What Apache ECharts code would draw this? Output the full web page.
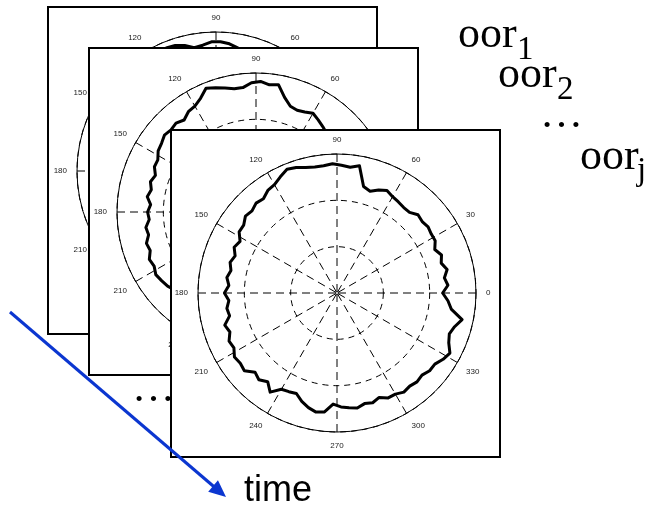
<!DOCTYPE html>
<html><head><meta charset="utf-8">
<script src="https://cdn.jsdelivr.net/npm/echarts@6/dist/echarts.min.js"></script>
<style>html,body{margin:0;padding:0;background:#fff}#c{width:648px;height:505px}</style>
</head><body><div id="c"></div>
<script>
// ---- data ----
const angleTickLabels = ['0','30','60','90','120','150','180','210','240','270','300','330'];

const frontAngles = [0,4,8,12,16,20,24,28,32,36,40,44,48,52,56,60,64,68,72,76,
  80,84,88,92,96,100,104,108,112,116,120,124,128,132,136,140,144,148,152,156,
  160,164,168,172,176,180,184,188,192,196,200,204,208,212,216,220,224,228,232,236,
  240,244,248,252,256,260,264,268,272,276,280,284,288,292,296,300,304,308,312,316,
  320,324,328,332,336,340,344,348,352,356];
const frontRadius = [0.76,0.80,0.78,0.81,0.78,0.80,0.77,0.80,0.80,0.81,0.80,0.81,0.78,0.78,0.79,0.80,0.82,0.80,0.77,0.79,
  0.93,0.91,0.92,0.93,0.92,0.92,0.93,0.95,0.96,0.93,0.90,0.89,0.86,0.87,0.85,0.86,0.83,0.83,0.79,0.81,
  0.78,0.80,0.78,0.80,0.78,0.81,0.78,0.80,0.79,0.84,0.82,0.85,0.84,0.87,0.86,0.87,0.82,0.84,0.81,0.86,
  0.80,0.79,0.78,0.82,0.85,0.87,0.86,0.80,0.82,0.83,0.84,0.82,0.83,0.81,0.84,0.84,0.86,0.85,0.86,0.85,
  0.87,0.87,0.90,0.92,0.88,0.86,0.88,0.92,0.83,0.80];

const middleAngles = [40,44,48,52,56,60,64,68,72,76,80,84,88,92,96,100,104,108,112,116,
  120,124,128,132,136,140,144,148,152,156,160,164,168,172,176,180,184,188,192,196,
  200,204,208,212,216,220,224,228];
const middleRadius = [0.78,0.77,0.76,0.78,0.80,0.82,0.80,0.79,0.80,0.85,0.93,0.92,0.94,0.93,0.90,0.90,0.92,0.94,0.96,0.91,
  0.88,0.87,0.84,0.86,0.85,0.86,0.84,0.83,0.80,0.80,0.77,0.79,0.77,0.79,0.76,0.78,0.77,0.80,0.79,0.82,
  0.81,0.84,0.83,0.85,0.84,0.83,0.81,0.83];

const backAngles = [64,68,72,76,80,84,88,92,96,100,104,108,112,116,120,124];
const backRadius = [0.80,0.79,0.80,0.86,0.90,0.92,0.93,0.93,0.91,0.90,0.93,0.95,0.955,0.92,0.89,0.88];

// ---- layout ----
const BOX_W = 329, BOX_H = 327, R = 139;
const plots = [
  {box:[48,7],   center:[216,171], ang:backAngles,   rad:backRadius,   close:false},
  {box:[89,48],  center:[256,212], ang:middleAngles, rad:middleRadius, close:false},
  {box:[171,130],center:[337,293], ang:frontAngles,  rad:frontRadius,  close:true}
];

const polar = [], angleAxis = [], radiusAxis = [], series = [], elements = [];
plots.forEach((p, i) => {
  const zb = i * 3 + 1;
  elements.push({type:'rect', z: zb, shape:{x:p.box[0], y:p.box[1], width:BOX_W, height:BOX_H},
    style:{fill:'#fff', stroke:'#000', lineWidth:2}});
  polar.push({center:p.center, radius:R});
  angleAxis.push({polarIndex:i, type:'value', min:0, max:360, interval:30, startAngle:0, clockwise:false, z: zb + 1,
    axisLine:{show:true, lineStyle:{color:'#000', width:1}},
    axisTick:{show:false},
    splitLine:{show:true, lineStyle:{color:'#000', width:1, type:[8,5]}},
    axisLabel:{show:true, margin:10, fontSize:8, fontFamily:'Liberation Sans', color:'#222',
      formatter: v => (v < 360 ? angleTickLabels[Math.round(v/30)] : '')}
  });
  radiusAxis.push({polarIndex:i, type:'value', min:0, max:1, interval:1/3, z: zb + 1,
    axisLine:{show:false}, axisTick:{show:false}, axisLabel:{show:false},
    splitLine:{show:true, lineStyle:{color:'#000', width:1, type:[6,5]}}
  });
  const data = p.rad.map((r, k) => [r, p.ang[k]]);
  if (p.close) data.push([p.rad[0], p.ang[0] + 360]);
  series.push({type:'line', coordinateSystem:'polar', polarIndex:i, z: zb + 2, data,
    showSymbol:false, symbol:'none', smooth:false, silent:true,
    lineStyle:{color:'#000', width:3, join:'round', cap:'round'}});
});

// annotations
const TZ = 20;
function txt(text, x, baseline, size, family) {
  const y = baseline - size * 0.34;
  elements.push({type:'text', z:TZ, style:{text, x, y, font: size + 'px "' + family + '"', fill:'#000',
    align:'left', verticalAlign:'middle', textAlign:'left', textVerticalAlign:'middle'}});
}
txt('oor', 458, 50, 44, 'Liberation Serif');  txt('1', 517, 62, 33, 'Liberation Serif');
txt('oor', 498, 90, 44, 'Liberation Serif');  txt('2', 557, 102, 33, 'Liberation Serif');
txt('\u2026', 540, 130, 43, 'Liberation Serif');
txt('oor', 580, 172, 44, 'Liberation Serif'); txt('j', 637, 183, 33, 'Liberation Serif');
txt('\u2026', 132, 404, 43, 'Liberation Serif');
txt('time', 244, 503, 36, 'Liberation Sans');

// arrow
const A0 = [10, 312], A1 = [226, 497];
const L = Math.hypot(A1[0]-A0[0], A1[1]-A0[1]);
const d = [(A1[0]-A0[0])/L, (A1[1]-A0[1])/L], n = [-d[1], d[0]];
const HL = 17, HW = 7.5;
const base = [A1[0]-HL*d[0], A1[1]-HL*d[1]];
const blue = '#0b36d0';
elements.push({type:'line', z:TZ, shape:{x1:A0[0], y1:A0[1], x2:base[0]+2*d[0], y2:base[1]+2*d[1]},
  style:{stroke:blue, lineWidth:3}});
elements.push({type:'polygon', z:TZ, shape:{points:[A1, [base[0]+HW*n[0], base[1]+HW*n[1]], [base[0]-HW*n[0], base[1]-HW*n[1]]]},
  style:{fill:blue}});

const chart = echarts.init(document.getElementById('c'), null, {renderer:'canvas'});
chart.setOption({animation:false, backgroundColor:'#fff', polar, angleAxis, radiusAxis, series, graphic:{elements}});
</script></body></html>
